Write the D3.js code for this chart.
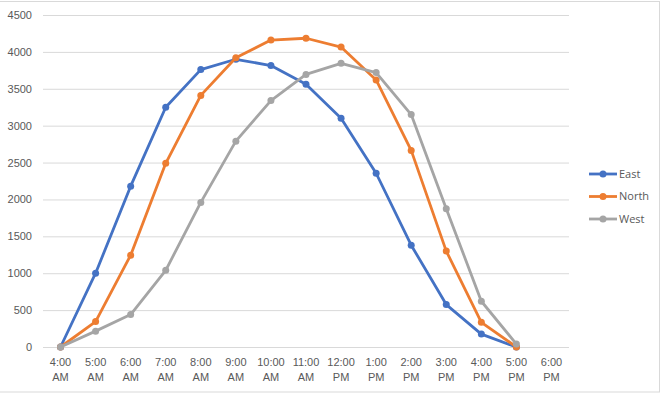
<!DOCTYPE html>
<html>
<head>
<meta charset="utf-8">
<script src="https://cdn.jsdelivr.net/npm/d3@7"></script>
<style>
  body { margin: 0; background: #fff; }
  svg { display: block; font-family: "Open Sans", "Liberation Sans", sans-serif; }
</style>
</head>
<body>
<div id="chart"></div>
<script>
const hours = ["4:00 AM", "5:00 AM", "6:00 AM", "7:00 AM", "8:00 AM", "9:00 AM", "10:00 AM",
  "11:00 AM", "12:00 PM", "1:00 PM", "2:00 PM", "3:00 PM", "4:00 PM", "5:00 PM", "6:00 PM"];

const east  = [0, 1000, 2180, 3250, 3760, 3900, 3815, 3560, 3100, 2355, 1380, 575, 175, 0, null];
const north = [0, 345, 1245, 2490, 3410, 3920, 4160, 4185, 4065, 3620, 2665, 1300, 335, 0, null];
const west  = [0, 215, 440, 1040, 1960, 2790, 3340, 3695, 3845, 3720, 3150, 1875, 620, 40, null];

const seriesNames = ["East", "North", "West"];
const seriesColors = ["#4472C4", "#ED7D31", "#A5A5A5"];
const yTicks = [0, 500, 1000, 1500, 2000, 2500, 3000, 3500, 4000, 4500];

const W = 663, H = 395;
const plot = { left: 43, right: 569, top: 15, bottom: 347 };

const svg = d3.select("#chart")
  .append("svg")
  .attr("width", W)
  .attr("height", H);

svg.append("rect")
  .attr("x", -1).attr("y", 1.5)
  .attr("width", 660.5).attr("height", 390.5)
  .attr("fill", "#fff")
  .attr("stroke", "#d9d9d9");

const x = d3.scaleBand()
  .domain(hours)
  .range([plot.left, plot.right]);

const y = d3.scaleLinear()
  .domain([0, 4500])
  .range([plot.bottom, plot.top]);

// gridlines + y labels
const yAxis = d3.axisLeft(y)
  .tickValues(yTicks)
  .tickFormat(d3.format("d"))
  .tickSize(-(plot.right - plot.left))
  .tickPadding(11);
const gy = svg.append("g")
  .attr("transform", `translate(${plot.left},0)`)
  .call(yAxis);
gy.select(".domain").remove();
gy.selectAll(".tick line").attr("stroke", "#d9d9d9");
gy.selectAll(".tick text").attr("fill", "#595959").style("font-size", "11px");

// x axis labels, two lines each
const xAxis = d3.axisBottom(x).tickSize(0).tickFormat("");
const gx = svg.append("g")
  .attr("transform", `translate(0,${plot.bottom})`)
  .call(xAxis);
gx.select(".domain").remove();
gx.selectAll(".tick").each(function(d) {
  const parts = d.split(" ");
  const t = d3.select(this).append("text")
    .attr("fill", "#595959")
    .attr("text-anchor", "middle")
    .style("font-size", "11px");
  t.append("tspan").attr("x", 0).attr("y", 19).text(parts[0]);
  t.append("tspan").attr("x", 0).attr("y", 34).text(parts[1]);
});

const allSeries = [east, north, west];
const cx = d => x(d) + x.bandwidth() / 2;

const line = d3.line()
  .defined(d => d.v != null)
  .x(d => cx(d.h))
  .y(d => y(d.v));

allSeries.forEach((vals, i) => {
  const pts = hours.map((h, j) => ({ h: h, v: vals[j] }));
  const g = svg.append("g");
  g.append("path")
    .datum(pts)
    .attr("d", line)
    .attr("fill", "none")
    .attr("stroke", seriesColors[i])
    .attr("stroke-width", 2.8)
    .attr("stroke-linejoin", "round");
  g.selectAll("circle")
    .data(pts.filter(d => d.v != null))
    .join("circle")
    .attr("cx", d => cx(d.h))
    .attr("cy", d => y(d.v))
    .attr("r", 3.5)
    .attr("fill", seriesColors[i]);
});

// legend
const legend = svg.append("g")
  .selectAll("g")
  .data(seriesNames)
  .join("g")
  .attr("transform", (d, i) => `translate(589,${174 + i * 22.5})`);
legend.append("line")
  .attr("x1", 0).attr("x2", 28)
  .attr("stroke", (d, i) => seriesColors[i])
  .attr("stroke-width", 2.8);
legend.append("circle")
  .attr("cx", 14).attr("r", 3.5)
  .attr("fill", (d, i) => seriesColors[i]);
legend.append("text")
  .attr("x", 30).attr("dy", "0.35em")
  .attr("fill", "#595959")
  .style("font-size", "11px")
  .text(d => d);
</script>
</body>
</html>
